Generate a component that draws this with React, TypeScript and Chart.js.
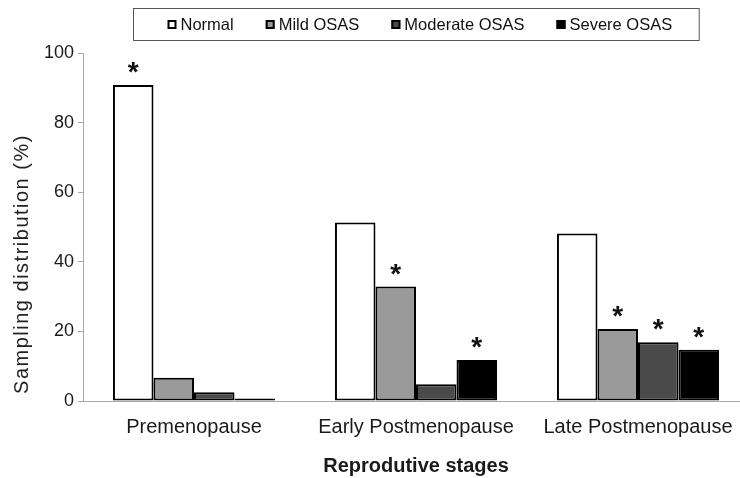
import React, { useEffect, useRef } from 'react';
import { Chart, registerables } from 'chart.js';

Chart.register(...registerables);

const categories = ['Premenopause', 'Early Postmenopause', 'Late Postmenopause'];
const seriesNames = ['Normal', 'Mild OSAS', 'Moderate OSAS', 'Severe OSAS'];
const normal = [90.8, 51.3, 48.1];
const mild = [6.7, 32.9, 20.7];
const moderate = [2.5, 4.8, 16.9];
const severe = [0.7, 11.8, 14.7];
const normalStars = [true, false, false];
const mildStars = [false, true, true];
const moderateStars = [false, false, true];
const severeStars = [false, true, true];
const yMin = 0;
const yMax = 100;
const yStep = 20;
const yTitle = 'Sampling distribution (%)';
const xTitle = 'Reprodutive stages';

const seriesColors = ['#ffffff', '#9a9a9a', '#4a4a4a', '#000000'];
const FONT = '"Liberation Sans", Arial, Helvetica, sans-serif';

const starPlugin = {
  id: 'stars',
  afterDatasetsDraw(chart: any) {
    const flags = [normalStars, mildStars, moderateStars, severeStars];
    const ctx = chart.ctx;
    ctx.save();
    ctx.font = `bold 28px ${FONT}`;
    ctx.textAlign = 'center';
    ctx.textBaseline = 'alphabetic';
    ctx.fillStyle = '#111';
    flags.forEach((row, di) => {
      const meta = chart.getDatasetMeta(di);
      row.forEach((f, i) => {
        if (!f) return;
        const el = meta.data[i];
        ctx.fillText('*', el.x, el.y - 4);
      });
    });
    ctx.restore();
  },
};

const yTitlePlugin = {
  id: 'ytitle',
  afterDraw(chart: any) {
    const ctx = chart.ctx;
    ctx.save();
    ctx.translate(22, 264);
    ctx.rotate(-Math.PI / 2);
    ctx.font = `20px ${FONT}`;
    try { (ctx as any).letterSpacing = '1.5px'; } catch (e) {}
    ctx.textAlign = 'center';
    ctx.textBaseline = 'middle';
    ctx.fillStyle = '#222';
    ctx.fillText(yTitle, 0, 0);
    ctx.restore();
  },
};

const legendPlugin = {
  id: 'boxlegend',
  afterDraw(chart: any) {
    const ctx = chart.ctx;
    const area = chart.chartArea;
    ctx.save();
    ctx.font = `16.5px ${FONT}`;
    const marker = 9;
    const markerGap = 4;
    const itemGap = 32;
    const widths = seriesNames.map((n) => ctx.measureText(n).width);
    const content = widths.reduce((a, w) => a + marker + markerGap + w, 0) + itemGap * (seriesNames.length - 1);
    const padL = 34;
    const padR = 27;
    const boxW = padL + content + padR;
    const cx = (area.left + area.right) / 2;
    const boxX = Math.round(cx - boxW / 2) + 0.5;
    const boxY = 8.5;
    const boxH = 32;
    ctx.strokeStyle = '#555';
    ctx.lineWidth = 1;
    ctx.strokeRect(boxX, boxY, boxW, boxH);
    const cy = boxY + boxH / 2;
    let x = boxX + padL;
    ctx.textBaseline = 'middle';
    ctx.textAlign = 'left';
    seriesNames.forEach((n, i) => {
      ctx.fillStyle = seriesColors[i];
      ctx.fillRect(x, cy - marker / 2, marker, marker);
      ctx.strokeStyle = '#000';
      ctx.lineWidth = 2;
      ctx.strokeRect(x + 1, cy - marker / 2 + 1, marker - 2, marker - 2);
      x += marker + markerGap;
      ctx.fillStyle = '#111';
      ctx.fillText(n, x, cy + 1);
      x += widths[i] + itemGap;
    });
    ctx.restore();
  },
};

export default function App() {
  const canvasRef = useRef<HTMLCanvasElement | null>(null);

  useEffect(() => {
    if (!canvasRef.current) return;
    const values = [normal, mild, moderate, severe];
    const chart = new Chart(canvasRef.current, {
      type: 'bar',
      data: {
        labels: categories,
        datasets: seriesNames.map((name, i) => ({
          label: name,
          data: values[i],
          backgroundColor: seriesColors[i],
          borderColor: '#000',
          borderWidth: 2,
          borderSkipped: false,
          categoryPercentage: 0.73,
          barPercentage: 1.0,
        })),
      },
      options: {
        responsive: true,
        maintainAspectRatio: false,
        animation: false,
        layout: { padding: { top: 53, left: 0, right: 1, bottom: 0 } },
        plugins: {
          legend: { display: false },
          tooltip: { enabled: false },
        },
        scales: {
          x: {
            type: 'category',
            grid: { display: false, drawTicks: false },
            border: { display: true, color: '#a8a8a8', width: 1 },
            ticks: {
              color: '#1a1a1a',
              font: { family: FONT, size: 20 },
              padding: 14,
              maxRotation: 0,
              autoSkip: false,
            },
            title: {
              display: true,
              text: xTitle,
              color: '#1a1a1a',
              font: { family: FONT, size: 20, weight: 'bold' },
              padding: { top: 0, bottom: 0 },
            },
            afterFit(scale: any) {
              scale.height = 77;
            },
          },
          y: {
            min: yMin,
            max: yMax,
            grid: { drawOnChartArea: false, drawTicks: true, tickLength: 5, color: '#a8a8a8' },
            border: { display: true, color: '#a8a8a8', width: 1 },
            ticks: {
              stepSize: yStep,
              color: '#1a1a1a',
              font: { family: FONT, size: 18 },
              padding: 4,
            },
            afterFit(scale: any) {
              scale.width = 83;
            },
          },
        },
      },
      plugins: [starPlugin, yTitlePlugin, legendPlugin],
    });
    return () => chart.destroy();
  }, []);

  return (
    <div style={{ position: 'fixed', left: 0, top: 0, width: 740, height: 478, overflow: 'hidden', background: '#fff' }}>
      <div style={{ position: 'relative', width: 750, height: 478 }}>
        <canvas ref={canvasRef} />
      </div>
    </div>
  );
}
